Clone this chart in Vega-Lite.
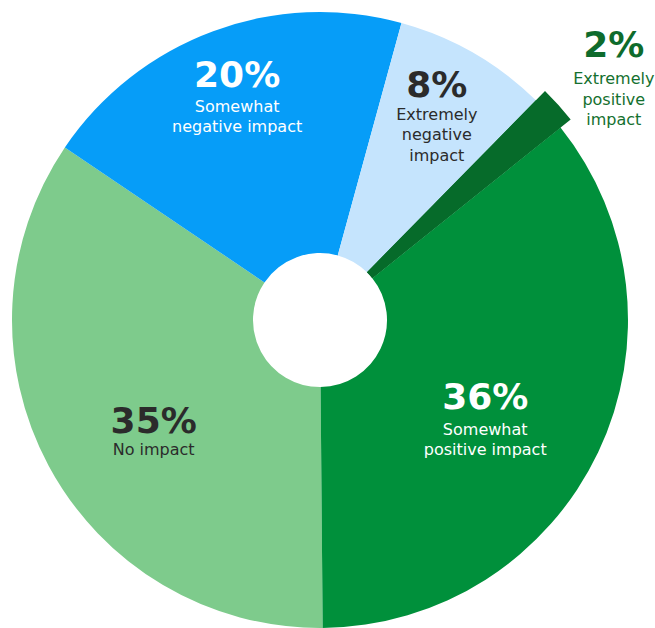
{
  "$schema": "https://vega.github.io/schema/vega-lite/v6.json",
  "width": 640,
  "height": 616,
  "autosize": "none",
  "padding": {"left": 0, "top": 12, "right": 15, "bottom": 0},
  "background": "white",
  "view": {"stroke": null},
  "data": {
    "values": [
      {"k": 1, "label": "No impact", "pct": 0.346, "desc": "No impact"},
      {"k": 2, "label": "Somewhat negative impact", "pct": 0.198, "desc": "Somewhat\nnegative impact"},
      {"k": 3, "label": "Extremely negative impact", "pct": 0.081, "desc": "Extremely\nnegative\nimpact"},
      {"k": 4, "label": "Extremely positive impact", "pct": 0.019, "desc": "Extremely\npositive\nimpact"},
      {"k": 5, "label": "Somewhat positive impact", "pct": 0.356, "desc": "Somewhat\npositive impact"}
    ]
  },
  "encoding": {
    "theta": {"field": "pct", "type": "quantitative", "stack": true, "scale": {"domain": [0, 1], "range": [3.1329, 9.4161]}},
    "order": {"field": "k", "type": "quantitative"}
  },
  "layer": [
    {
      "mark": {"type": "arc", "innerRadius": 67, "outerRadius": 308},
      "encoding": {
        "color": {"field": "label", "type": "nominal", "legend": null,
          "scale": {"domain": ["No impact", "Somewhat negative impact", "Extremely negative impact", "Extremely positive impact", "Somewhat positive impact"],
                    "range": ["#7ECB8C", "#069DF8", "#C5E4FD", "#066B2A", "#00903B"]}}
      }
    },
    {
      "mark": {"type": "arc", "innerRadius": 67, "outerRadius": 321},
      "encoding": {
        "color": {"field": "label", "type": "nominal", "legend": null},
        "opacity": {"condition": {"test": "datum.k == 4", "value": 1}, "value": 0}
      }
    },
    {
      "mark": {"type": "text", "radius": 201, "thetaOffset": -0.1038, "font": "DejaVu Sans", "fontSize": 36, "fontWeight": "bold", "baseline": "alphabetic", "align": "center", "color": "#2b2b2b"},
      "encoding": {"text": {"condition": {"test": "datum.k == 1", "field": "pct", "type": "quantitative", "format": ".0%"}, "value": ""}}
    },
    {
      "mark": {"type": "text", "radius": 201, "thetaOffset": -0.1038, "dy": 22, "lineBreak": "\n", "lineHeight": 20.5, "font": "DejaVu Sans", "fontSize": 16, "baseline": "alphabetic", "align": "center", "color": "#2b2b2b"},
      "encoding": {"text": {"condition": {"test": "datum.k == 1", "field": "desc", "type": "nominal"}, "value": ""}}
    },
    {
      "mark": {"type": "text", "radius": 247, "thetaOffset": 0.0122, "font": "DejaVu Sans", "fontSize": 36, "fontWeight": "bold", "baseline": "alphabetic", "align": "center", "color": "#ffffff"},
      "encoding": {"text": {"condition": {"test": "datum.k == 2", "field": "pct", "type": "quantitative", "format": ".0%"}, "value": ""}}
    },
    {
      "mark": {"type": "text", "radius": 247, "thetaOffset": 0.0122, "dy": 24.5, "lineBreak": "\n", "lineHeight": 20, "font": "DejaVu Sans", "fontSize": 16, "baseline": "alphabetic", "align": "center", "color": "#ffffff"},
      "encoding": {"text": {"condition": {"test": "datum.k == 2", "field": "desc", "type": "nominal"}, "value": ""}}
    },
    {
      "mark": {"type": "text", "radius": 252, "thetaOffset": -0.0401, "font": "DejaVu Sans", "fontSize": 36, "fontWeight": "bold", "baseline": "alphabetic", "align": "center", "color": "#2b2b2b"},
      "encoding": {"text": {"condition": {"test": "datum.k == 3", "field": "pct", "type": "quantitative", "format": ".0%"}, "value": ""}}
    },
    {
      "mark": {"type": "text", "radius": 252, "thetaOffset": -0.0401, "dy": 23, "lineBreak": "\n", "lineHeight": 20.7, "font": "DejaVu Sans", "fontSize": 16, "baseline": "alphabetic", "align": "center", "color": "#2b2b2b"},
      "encoding": {"text": {"condition": {"test": "datum.k == 3", "field": "desc", "type": "nominal"}, "value": ""}}
    },
    {
      "mark": {"type": "text", "radius": 394, "thetaOffset": 0.005, "font": "DejaVu Sans", "fontSize": 36, "fontWeight": "bold", "baseline": "alphabetic", "align": "center", "color": "#0E6B2C"},
      "encoding": {"text": {"condition": {"test": "datum.k == 4", "field": "pct", "type": "quantitative", "format": ".0%"}, "value": ""}}
    },
    {
      "mark": {"type": "text", "radius": 394, "thetaOffset": 0.005, "dy": 27, "lineBreak": "\n", "lineHeight": 20.5, "font": "DejaVu Sans", "fontSize": 16, "baseline": "alphabetic", "align": "center", "color": "#14702F"},
      "encoding": {"text": {"condition": {"test": "datum.k == 4", "field": "desc", "type": "nominal"}, "value": ""}}
    },
    {
      "mark": {"type": "text", "radius": 187.5, "thetaOffset": 0.0489, "font": "DejaVu Sans", "fontSize": 36, "fontWeight": "bold", "baseline": "alphabetic", "align": "center", "color": "#ffffff"},
      "encoding": {"text": {"condition": {"test": "datum.k == 5", "field": "pct", "type": "quantitative", "format": ".0%"}, "value": ""}}
    },
    {
      "mark": {"type": "text", "radius": 187.5, "thetaOffset": 0.0489, "dy": 26.5, "lineBreak": "\n", "lineHeight": 20, "font": "DejaVu Sans", "fontSize": 16, "baseline": "alphabetic", "align": "center", "color": "#ffffff"},
      "encoding": {"text": {"condition": {"test": "datum.k == 5", "field": "desc", "type": "nominal"}, "value": ""}}
    }
  ]
}
